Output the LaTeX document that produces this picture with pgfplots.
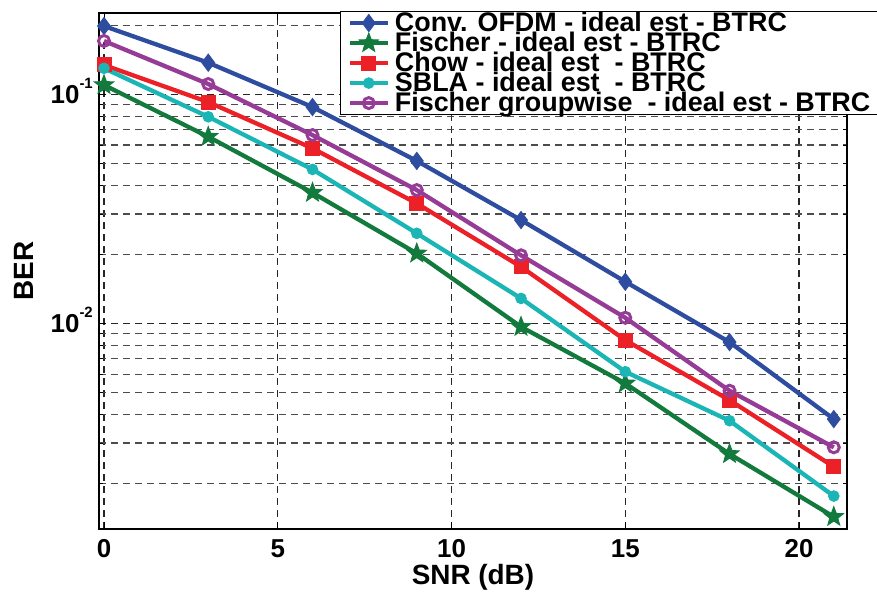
\documentclass[border=0pt]{standalone}
\usepackage{fontspec}
\setmainfont{Liberation Sans}
\usepackage{pgfplots}
\pgfplotsset{compat=1.18}
\usetikzlibrary{plotmarks}
\definecolor{cblue}{HTML}{2E4DA0}
\definecolor{cgreen}{HTML}{127A3C}
\definecolor{cred}{HTML}{EC2127}
\definecolor{ccyan}{HTML}{1CB5B6}
\definecolor{cpurple}{HTML}{963C96}
\newcommand{\sups}[1]{\raisebox{15bp}[0pt][0pt]{\fontsize{15}{15}\selectfont #1}}
\pgfdeclareplotmark{fstar}{%
  \pgfpathmoveto{\pgfpointpolar{90}{\pgfplotmarksize}}%
  \pgfpathlineto{\pgfpointpolar{126}{0.42\pgfplotmarksize}}%
  \pgfpathlineto{\pgfpointpolar{162}{\pgfplotmarksize}}%
  \pgfpathlineto{\pgfpointpolar{198}{0.42\pgfplotmarksize}}%
  \pgfpathlineto{\pgfpointpolar{234}{\pgfplotmarksize}}%
  \pgfpathlineto{\pgfpointpolar{270}{0.42\pgfplotmarksize}}%
  \pgfpathlineto{\pgfpointpolar{306}{\pgfplotmarksize}}%
  \pgfpathlineto{\pgfpointpolar{342}{0.42\pgfplotmarksize}}%
  \pgfpathlineto{\pgfpointpolar{18}{\pgfplotmarksize}}%
  \pgfpathlineto{\pgfpointpolar{54}{0.42\pgfplotmarksize}}%
  \pgfpathclose
  \pgfusepathqfillstroke}
\begin{document}
\begin{tikzpicture}
\begin{axis}[
  scale only axis,
  width=748bp, height=516bp,
  ymode=log,
  xmin=-0.144, xmax=21.38,
  ymin=0.001265, ymax=0.2265,
  clip=false,
  axis line style={line width=1.5bp, black},
  tick align=inside,
  major tick length=7bp, minor tick length=4bp,
  tick style={line width=1bp, black},
  xtick={0,5,10,15,20},
  xticklabels={0,5,10,15,20},
  ytick={0.01,0.1},
  yticklabels={10\sups{-2},10\sups{-1}},
  minor ytick={0.002,0.003,0.004,0.005,0.006,0.007,0.008,0.009,0.02,0.03,0.04,0.05,0.06,0.07,0.08,0.09,0.2},
  grid=both,
  major grid style={dash pattern=on 7bp off 5bp, line width=1.3bp, black!85},
  minor grid style={dash pattern=on 7bp off 5bp, line width=1.3bp, black!70},
  xticklabel style={font=\fontsize{26}{26}\selectfont\bfseries, anchor=north, inner sep=0pt, yshift=-10bp},
  yticklabel style={font=\fontsize{26}{26}\selectfont\bfseries, anchor=east, inner sep=0pt, xshift=-6bp},
  xlabel={SNR (dB)},
  ylabel={BER},
  every axis x label/.style={at={([yshift=-48bp]axis description cs:0.5,0)}, anchor=center, font=\fontsize{28}{28}\selectfont\bfseries},
  every axis y label/.style={at={([xshift=-75bp]axis description cs:0,0.5)}, rotate=90, anchor=center, font=\fontsize{28}{28}\selectfont\bfseries},
  legend cell align=left,
  legend style={at={(0.3222,1.0039)}, anchor=north west, draw=black, line width=1.2bp, fill=white,
    inner xsep=7bp, inner ysep=1.5bp, row sep=0pt, column sep=5bp,
    font=\fontsize{27}{27}\selectfont\bfseries,
    nodes={inner sep=0pt, text height=18bp, text depth=2bp}},
  legend image code/.code={\draw[mark repeat=2,mark phase=2,#1] plot coordinates {(0bp,0bp)(19bp,0bp)(38bp,0bp)};},
  every axis plot/.append style={line width=4.3bp},
]
\addplot[color=cblue, mark=diamond*, mark size=8.5bp, mark options={line width=1bp, fill=cblue}] coordinates {
(0,0.1987) (3,0.1374) (6,0.0880) (9,0.0512) (12,0.02825) (15,0.0152) (18,0.00828) (21,0.00382)};
\addlegendentry{Conv. OFDM - ideal est - BTRC}
\addplot[color=cgreen, mark=fstar, mark size=10bp, mark options={line width=1bp, fill=cgreen}] coordinates {
(0,0.1098) (3,0.0653) (6,0.0372) (9,0.0202) (12,0.00966) (15,0.00547) (18,0.00269) (21,0.00143)};
\addlegendentry{Fischer - ideal est - BTRC}
\addplot[color=cred, mark=square*, mark size=7bp, mark options={line width=1bp, fill=cred}] coordinates {
(0,0.1343) (3,0.0925) (6,0.0581) (9,0.0334) (12,0.01766) (15,0.00845) (18,0.00462) (21,0.002366)};
\addlegendentry{Chow - ideal est\ \ - BTRC}
\addplot[color=ccyan, mark=*, mark size=5.3bp, mark options={line width=1bp, fill=ccyan}] coordinates {
(0,0.1299) (3,0.0798) (6,0.0470) (9,0.02472) (12,0.01285) (15,0.00615) (18,0.003758) (21,0.001762)};
\addlegendentry{SBLA - ideal est\ \ - BTRC}
\addplot[color=cpurple, mark=o, mark size=5.5bp, mark options={line width=3bp, fill=white}] coordinates {
(0,0.1710) (3,0.1109) (6,0.0664) (9,0.0382) (12,0.01982) (15,0.01058) (18,0.00508) (21,0.002876)};
\addlegendentry{Fischer groupwise\ \ - ideal est - BTRC}
\end{axis}
\pgfresetboundingbox
\path[use as bounding box] ([xshift=-99bp,yshift=-66bp]current axis.south west) rectangle ([xshift=778bp,yshift=529bp]current axis.south west);
\end{tikzpicture}
\end{document}
